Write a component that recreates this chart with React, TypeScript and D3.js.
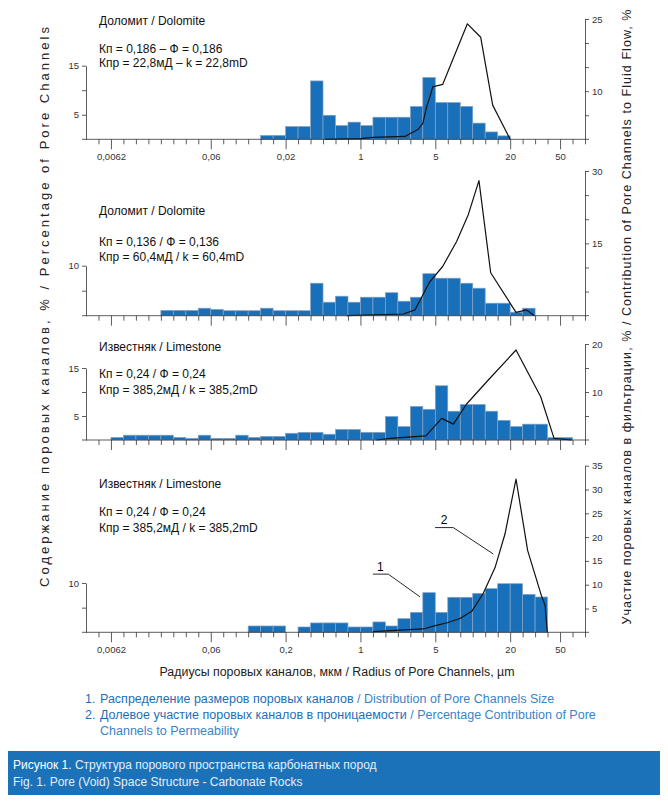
import React, { useEffect, useRef } from 'react';
import * as d3 from 'd3';

// pore radius axis: 40 equal bins, labels on some of the bin edges
const binCount = 40;
const majorTicks = [2, 10, 16, 22, 28, 34, 38];
const tickLabelsTop = ['0,0062', '0,06', '0,02', '1', '5', '20', '50'];
const tickLabelsBottom = ['0,0062', '0,06', '0,2', '1', '5', '20', '50'];

// 1 - Доломит, Кп 0,186
const dol1Start = 14;
const dol1Bars = [0.8, 0.8, 2.6, 2.6, 11.9, 4.9, 2.8, 3.5, 2.8, 4.5, 4.5, 4.5, 6.7, 12.6, 7.5, 7.5, 6.7, 3.3, 1.5, 0.7];
const dol1LineX = [19.16, 22, 23, 25.57, 26, 26.64, 27, 27.31, 27.58, 27.79, 28.59, 30.57, 31.64, 32.6, 34];
const dol1LineY = [0, 0.14, 0.4, 0.6, 1.2, 2.1, 3.3, 6.8, 8.9, 10.9, 11.4, 24.0, 21.2, 7.1, 0];

// 2 - Доломит, Кп 0,136
const dol2Start = 6;
const dol2Bars = [1.07, 1.07, 1.07, 1.5, 1.27, 1.0, 1.0, 1.0, 1.5, 1.0, 1.0, 1.0, 6.5, 2.7, 3.9, 2.7, 3.7, 3.7, 4.6, 2.9, 3.7, 8.4, 7.5, 7.5, 6.5, 5.5, 2.5, 2.5, 0.7, 1.5];
const dol2LineX = [20.9, 25.44, 26.37, 27.52, 28.59, 29.71, 30.65, 31.5, 32.44, 34.47, 35.32, 35.94];
const dol2LineY = [0, 0.35, 1.2, 6.9, 10.2, 15.4, 21.0, 28.0, 8.9, 0.7, 1.2, 0];

// 3 - Известняк
const lim1Start = 2;
const lim1Bars = [0.55, 1.0, 1.0, 1.0, 1.0, 0.55, 0.35, 1.0, 0.35, 0.35, 1.0, 0.55, 0.75, 0.75, 1.4, 1.6, 1.6, 1.2, 2.2, 2.2, 1.6, 1.6, 4.9, 2.8, 7.0, 6.4, 11.3, 6.0, 7.4, 7.4, 6.0, 4.1, 2.8, 3.3, 3.3, 0.5, 0.5];
const lim1LineX = [23.3, 24.37, 27.25, 28.51, 29.45, 30.51, 32.25, 34.47, 36.45, 37.52, 38.93];
const lim1LineY = [0, 0.35, 0.85, 4.5, 3.3, 7.5, 12.5, 18.75, 9.0, 0.35, 0];

// 4 - Известняк
const lim2Start = 13;
const lim2Bars = [1.28, 1.28, 1.28, 0, 1.08, 1.9, 1.9, 1.9, 1.08, 1.08, 2.1, 1.28, 2.77, 4.05, 8.04, 4.05, 7.1, 7.1, 7.9, 8.85, 9.86, 9.86, 7.7, 7.16];
const lim2LineX = [23, 27.04, 28, 28.96, 29.98, 30.92, 31.85, 32.79, 33.59, 34.47, 35.4, 36.53, 36.8, 36.98];
const lim2LineY = [0.14, 0.7, 1.4, 2.0, 2.9, 4.4, 8.2, 13.6, 20.7, 32.2, 17.2, 7.5, 5.7, 0];

const titles = ['Доломит / Dolomite', 'Доломит / Dolomite', 'Известняк / Limestone', 'Известняк / Limestone'];
const porosity = ['Кп = 0,186 – Ф = 0,186', 'Кп = 0,136 / Ф = 0,136', 'Кп = 0,24 / Ф = 0,24', 'Кп = 0,24 / Ф = 0,24'];
const permeability = ['Кпр = 22,8мД – k = 22,8mD', 'Кпр = 60,4мД / k = 60,4mD', 'Кпр = 385,2мД / k = 385,2mD', 'Кпр = 385,2мД / k = 385,2mD'];
const leftMax = [15, 10, 15, 10];
const leftLabels = [[5, 15], [10], [5, 15], [10]];
const rightMax = [25, 30, 20, 35];
const rightLabels = [[10, 25], [15, 30], [10, 20], [5, 10, 15, 20, 25, 30, 35]];

const leftTitle = 'Содержание поровых каналов, % / Percentage of Pore Channels';
const rightTitle = 'Участие поровых каналов в фильтрации, % / Contribution of Pore Channels to Fluid Flow, %';
const xTitle = 'Радиусы поровых каналов, мкм / Radius of Pore Channels,  µm';

const W = 668;
const H = 801;
const font = '"Liberation Sans", Arial, Helvetica, sans-serif';
const barFill = '#1870bb';
const blue = '#1c6fb6';

// vertical placement of each panel
const layout = [
  { base: 139.3, leftTop: 65.7, rightTop: 19, text: [25, 52.7, 66.7] },
  { base: 315.7, leftTop: 265.7, rightTop: 171, text: [215, 245.7, 260.5] },
  { base: 440, leftTop: 368, rightTop: 344, text: [350.7, 378.3, 394] },
  { base: 632.3, leftTop: 583, rightTop: 465.7, text: [488.3, 516, 531.7] },
];

const App: React.FC = () => {
  const ref = useRef<SVGSVGElement>(null);

  useEffect(() => {
    document.body.style.margin = '0';
    const svg = d3.select(ref.current);
    svg.selectAll('*').remove();
    svg.attr('font-family', font);

    const x = d3.scaleLinear().domain([0, binCount]).range([86, 585]);

    const panels = [
      { start: dol1Start, bars: dol1Bars, lx: dol1LineX, ly: dol1LineY },
      { start: dol2Start, bars: dol2Bars, lx: dol2LineX, ly: dol2LineY },
      { start: lim1Start, bars: lim1Bars, lx: lim1LineX, ly: lim1LineY },
      { start: lim2Start, bars: lim2Bars, lx: lim2LineX, ly: lim2LineY },
    ];

    panels.forEach((p, i) => {
      const L = layout[i];
      const yL = d3.scaleLinear().domain([0, leftMax[i]]).range([L.base, L.leftTop]);
      const yR = d3.scaleLinear().domain([0, rightMax[i]]).range([L.base, L.rightTop]);
      const g = svg.append('g');

      // bars
      const bars = p.bars.map((v, k) => ({ bin: p.start + k, v })).filter(d => d.v > 0);
      g.append('g')
        .selectAll('rect')
        .data(bars)
        .join('rect')
        .attr('x', d => x(d.bin))
        .attr('width', d => x(d.bin + 1) - x(d.bin))
        .attr('y', d => yL(d.v))
        .attr('height', d => L.base - yL(d.v))
        .attr('fill', barFill)
        .attr('stroke', '#86a3c4')
        .attr('stroke-width', 0.7);

      // contribution line
      const pts = p.lx.map((v, k) => [v, p.ly[k]] as [number, number]);
      g.append('path')
        .attr('d', d3.line<[number, number]>().x(d => x(d[0])).y(d => yR(d[1]))(pts))
        .attr('fill', 'none')
        .attr('stroke', '#111')
        .attr('stroke-width', 1.2)
        .attr('stroke-linejoin', 'round');

      // x axis
      const xa = g.append('g').attr('transform', `translate(0,${L.base})`);
      xa.append('line')
        .attr('x1', x(0) - 4).attr('x2', x(binCount) + 4)
        .attr('stroke', '#333').attr('stroke-width', 0.8);
      xa.append('g')
        .call(d3.axisBottom(x).tickValues(d3.range(1, binCount + 1).filter(t => !majorTicks.includes(t))).tickSize(5).tickFormat(() => ''))
        .call(a => a.select('.domain').remove());
      const labels = i === 0 ? tickLabelsTop : i === 3 ? tickLabelsBottom : null;
      xa.append('g')
        .call(d3.axisBottom(x).tickValues(majorTicks).tickSize(10).tickPadding(4)
          .tickFormat((d, k) => (labels ? labels[k] : '')))
        .call(a => a.select('.domain').remove());
      xa.selectAll('.tick line').attr('stroke', '#333').attr('stroke-width', 0.8);
      xa.selectAll('.tick text').attr('font-family', font).attr('font-size', 9.5).attr('fill', '#333');

      // left axis
      g.append('g')
        .attr('transform', `translate(${x(0)},0)`)
        .call(d3.axisLeft(yL).tickValues(d3.range(5, leftMax[i] + 1, 5)).tickSize(4).tickSizeOuter(0)
          .tickFormat(d => (leftLabels[i].includes(+d) ? String(d) : '')))
        .call(a => {
          a.selectAll('path,line').attr('stroke', '#333').attr('stroke-width', 0.8);
          a.selectAll('text').attr('font-family', font).attr('font-size', 9.5).attr('fill', '#333');
        });

      // right axis
      g.append('g')
        .attr('transform', `translate(${x(binCount)},0)`)
        .call(d3.axisRight(yR).tickValues(d3.range(5, rightMax[i] + 1, 5)).tickSize(4).tickSizeOuter(0)
          .tickFormat(d => (rightLabels[i].includes(+d) ? String(d) : '')))
        .call(a => {
          a.selectAll('path,line').attr('stroke', '#333').attr('stroke-width', 0.8);
          a.selectAll('text').attr('font-family', font).attr('font-size', 9.5).attr('fill', '#333');
        });

      // panel texts
      const t = g.append('g').attr('font-size', 12).attr('fill', '#111');
      t.append('text').attr('x', 99).attr('y', L.text[0]).text(titles[i]);
      t.append('text').attr('x', 99).attr('y', L.text[1]).text(porosity[i]);
      t.append('text').attr('x', 99).attr('y', L.text[2]).text(permeability[i]);

      // leaders "1" and "2" on the last panel
      if (i === 3) {
        const lead = g.append('g').attr('stroke', '#111').attr('stroke-width', 0.9).attr('fill', 'none');
        lead.append('polyline').attr('points', [[23, 11.8], [24.23, 11.8], [26.77, 7.2]].map(d => `${x(d[0])},${yL(d[1])}`).join(' '));
        lead.append('polyline').attr('points', [[27.98, 22], [29.44, 22], [32.65, 16.45]].map(d => `${x(d[0])},${yR(d[1])}`).join(' '));
        g.append('text').attr('x', x(23.6)).attr('y', yL(12.5)).attr('text-anchor', 'middle').attr('font-size', 12).text('1');
        g.append('text').attr('x', x(28.7)).attr('y', yR(22.8)).attr('text-anchor', 'middle').attr('font-size', 12).text('2');
      }
    });

    // axis titles
    svg.append('text')
      .attr('transform', 'translate(49,307) rotate(-90)')
      .attr('text-anchor', 'middle').attr('font-size', 13).attr('fill', '#222')
      .attr('textLength', 560).attr('lengthAdjust', 'spacing')
      .text(leftTitle);
    svg.append('text')
      .attr('transform', 'translate(631,317) rotate(-90)')
      .attr('text-anchor', 'middle').attr('font-size', 12.5).attr('fill', '#222')
      .attr('textLength', 615).attr('lengthAdjust', 'spacing')
      .text(rightTitle);
    svg.append('text')
      .attr('x', 337).attr('y', 676)
      .attr('text-anchor', 'middle').attr('font-size', 12.5).attr('fill', '#222')
      .attr('textLength', 355).attr('lengthAdjust', 'spacingAndGlyphs')
      .text(xTitle);

    // legend
    const lg = svg.append('g').attr('font-size', 12.5);
    const l1 = lg.append('text').attr('x', 85).attr('y', 703).attr('fill', blue);
    l1.append('tspan').text('1. ');
    l1.append('tspan').attr('x', 100).text('Распределение размеров поровых каналов');
    l1.append('tspan').attr('fill', '#3a84c6').text(' / Distribution of Pore Channels Size');
    const l2 = lg.append('text').attr('x', 85).attr('y', 719).attr('fill', blue);
    l2.append('tspan').text('2. ');
    l2.append('tspan').attr('x', 100).text('Долевое участие поровых каналов в проницаемости');
    l2.append('tspan').attr('fill', '#3a84c6').text(' / Percentage Contribution of Pore');
    lg.append('text').attr('x', 100).attr('y', 735).attr('fill', '#3a84c6').text('Channels to Permeability');

    // caption
    svg.append('rect').attr('x', 8).attr('y', 751).attr('width', 652).attr('height', 44).attr('fill', '#1b72b9');
    const cap = svg.append('g').attr('font-size', 12).attr('fill', '#fff');
    const c1 = cap.append('text').attr('x', 13).attr('y', 769);
    c1.append('tspan').text('Рисунок 1.');
    c1.append('tspan').attr('fill', '#e4eef8').text(' Структура порового пространства карбонатных пород');
    cap.append('text').attr('x', 13).attr('y', 786).attr('fill', '#e4eef8').text('Fig. 1. Pore (Void) Space Structure - Carbonate Rocks');
  }, []);

  return <svg ref={ref} width={W} height={H} style={{ display: 'block', background: '#fff' }} />;
};

export default App;
